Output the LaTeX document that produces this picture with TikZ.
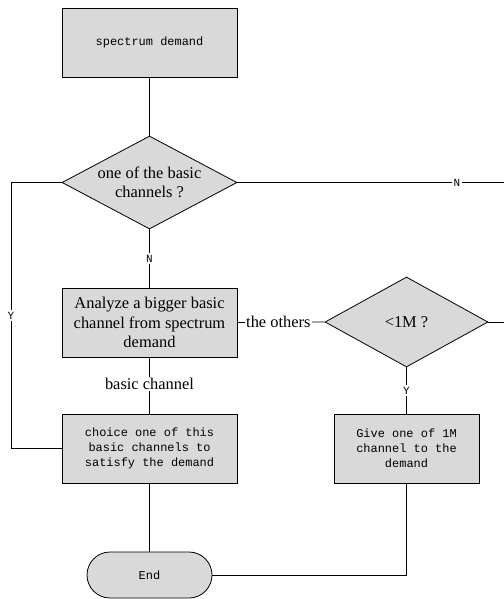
\documentclass[tikz,border=0pt]{standalone}
\usepackage{fontspec}
\setmainfont{Liberation Serif}
\setmonofont{Liberation Mono}
\usetikzlibrary{shapes.geometric,shapes.misc}
\definecolor{boxgray}{RGB}{217,217,217}
\tikzset{
  base/.style={draw=black, line width=0.8bp, fill=boxgray, inner sep=0pt, align=center},
  procbox/.style={base, rectangle, minimum width=175bp, minimum height=69bp},
  monotext/.style={font=\fontsize{12}{15}\selectfont\ttfamily},
  seriftext/.style={font=\fontsize{16.5}{19.5}\selectfont},
  decision/.style={base, diamond, seriftext},
  terminal/.style={base, rounded rectangle, minimum width=125bp, minimum height=46bp, monotext},
  conn/.style={line width=0.8bp, draw=black},
  yn/.style={fill=white, inner sep=1.5bp, font=\fontsize{11}{12}\selectfont\ttfamily},
  lab/.style={fill=white, inner sep=1.5bp, font=\fontsize{16.5}{19.5}\selectfont},
}
\begin{document}
\begin{tikzpicture}[x=1bp,y=-1bp]
\useasboundingbox (0,0) rectangle (504,599);
\node[procbox, monotext] (top) at (149.5,42.5) {spectrum demand};
\node[decision, minimum width=175bp, minimum height=93bp, aspect=1.88] (d1) at (149.5,182.5) {one of the basic\\channels ?};
\node[procbox, seriftext] (b2) at (149.5,322.5) {Analyze a bigger basic\\channel from spectrum\\demand};
\node[decision, minimum width=163bp, minimum height=90bp, aspect=1.81] (d2) at (406.5,322) {\textless1M ?};
\node[procbox, monotext] (b3) at (149.5,448.5) {choice one of this\\basic channels to\\satisfy the demand};
\node[procbox, monotext, minimum width=145bp] (b4) at (406.5,448.5) {Give one of 1M\\channel to the\\demand};
\node[terminal] (end) at (149.5,575) {End};
\coordinate (l1) at (11,182.5);
\coordinate (l2) at (11,448.5);
\coordinate (r1) at (505,182.5);
\coordinate (r2) at (505,322);
\draw[conn] (top) -- (d1);
\draw[conn] (d1.west) -- (l1) -- node[yn]{Y} (l2) -- (b3.west);
\draw[conn] (d1.east) -- node[yn, pos=0.82]{N} (r1);
\draw[conn] (d1.south) -- node[yn]{N} (b2.north);
\draw[conn] (b2.east) -- node[lab, pos=0.47]{the others} (d2.west);
\draw[conn] (d2.east) -- (r2);
\draw[conn] (d2.south) -- node[yn]{Y} (b4.north);
\draw[conn] (b2.south) -- node[lab, pos=0.47]{basic channel} (b3.north);
\draw[conn] (b3.south) -- (end.north);
\draw[conn] (end.east) -| (b4.south);
\end{tikzpicture}
\end{document}
